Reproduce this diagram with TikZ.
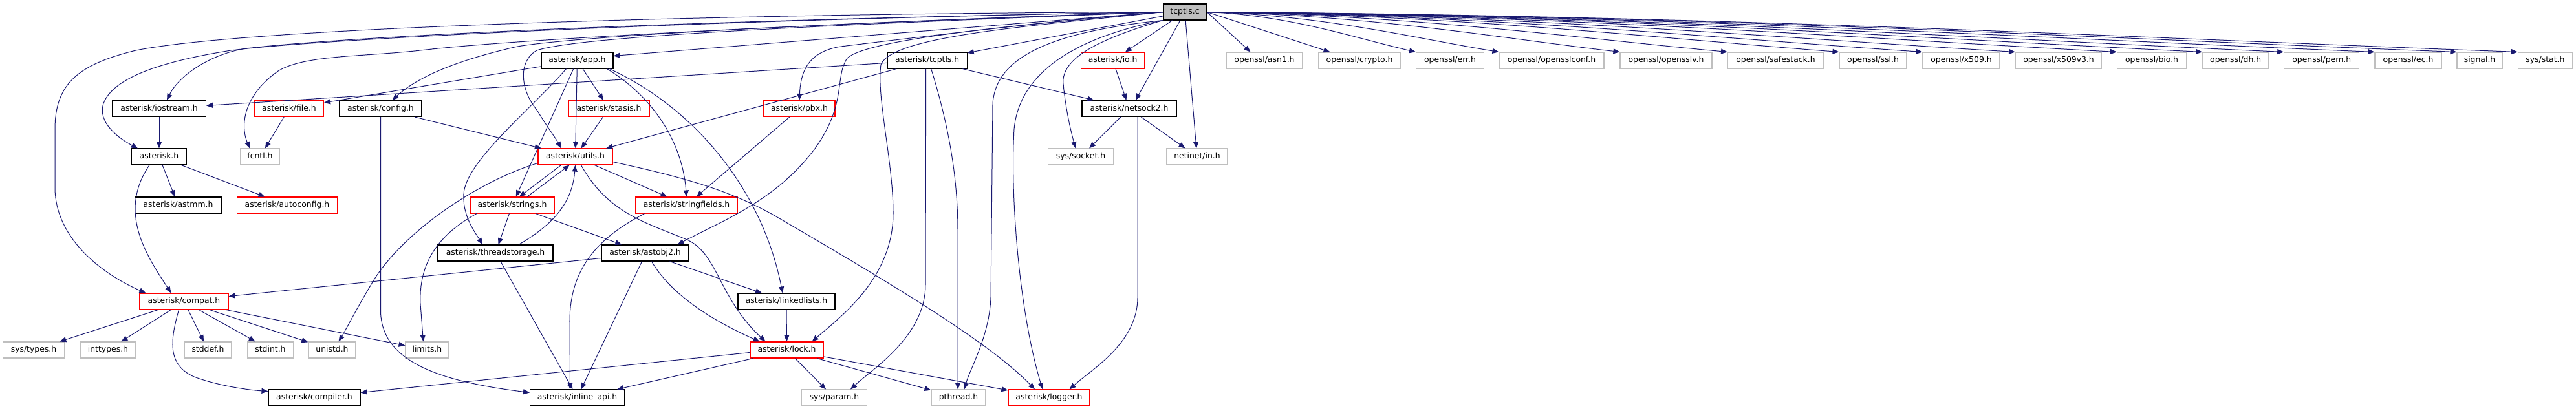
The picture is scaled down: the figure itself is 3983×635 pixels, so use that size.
\documentclass[tikz,border=0pt]{standalone}
\usepackage{fontspec}
\setmainfont{DejaVu Sans}
\usetikzlibrary{arrows.meta}
\definecolor{edgeblue}{RGB}{25,25,112}
\definecolor{boxgray}{RGB}{191,191,191}
\definecolor{boxred}{RGB}{255,0,0}

\begin{document}
\begin{tikzpicture}[x=1pt,y=-1pt,
  hdr/.style={draw=black,line width=1.1pt,fill=white,minimum height=25pt,inner xsep=0pt,
    text height=9pt,text depth=2.6pt,font=\fontsize{12.4}{14}\selectfont},
  redhdr/.style={hdr,draw=boxred},
  syshdr/.style={hdr,draw=boxgray},
  rootfile/.style={hdr,fill=boxgray},
  incl/.style={draw=edgeblue,line width=1pt,-{Triangle[length=10pt,width=8pt]}}]
  \useasboundingbox (0,0) rectangle (3983,635);

  \node[rootfile,minimum width=67] (tcptlsc) at (1832,18.5) {tcptls.c};

  \node[hdr,minimum width=111] (app) at (892.5,93.5) {asterisk/app.h};
  \node[hdr,minimum width=123] (tcptlsh) at (1433.7,93.5) {asterisk/tcptls.h};
  \node[redhdr,minimum width=98] (io) at (1720.6,93.5) {asterisk/io.h};
  \node[syshdr,minimum width=118] (asn1) at (1955,93.5) {openssl/asn1.h};
  \node[syshdr,minimum width=126] (crypto) at (2102,93.5) {openssl/crypto.h};
  \node[syshdr,minimum width=105] (err) at (2242,93.5) {openssl/err.h};
  \node[syshdr,minimum width=162] (sslconf) at (2399,93.5) {openssl/opensslconf.h};
  \node[syshdr,minimum width=142] (sslv) at (2576,93.5) {openssl/opensslv.h};
  \node[syshdr,minimum width=148] (safestack) at (2745.5,93.5) {openssl/safestack.h};
  \node[syshdr,minimum width=104] (ssl) at (2896,93.5) {openssl/ssl.h};
  \node[syshdr,minimum width=119] (x509) at (3032.5,93.5) {openssl/x509.h};
  \node[syshdr,minimum width=133] (x509v3) at (3183,93.5) {openssl/x509v3.h};
  \node[syshdr,minimum width=107] (bio) at (3327,93.5) {openssl/bio.h};
  \node[syshdr,minimum width=102] (dh) at (3456.7,93.5) {openssl/dh.h};
  \node[syshdr,minimum width=116] (pem) at (3589.7,93.5) {openssl/pem.h};
  \node[syshdr,minimum width=103] (ec) at (3723.5,93.5) {openssl/ec.h};
  \node[syshdr,minimum width=70] (signal) at (3834,93.5) {signal.h};
  \node[syshdr,minimum width=84] (sysstat) at (3935.4,93.5) {sys/stat.h};

  \node[hdr,minimum width=145] (iostream) at (246,168) {asterisk/iostream.h};
  \node[redhdr,minimum width=107] (file) at (447,168) {asterisk/file.h};
  \node[hdr,minimum width=127] (config) at (588.5,168) {asterisk/config.h};
  \node[redhdr,minimum width=125] (stasis) at (941.5,168) {asterisk/stasis.h};
  \node[redhdr,minimum width=110] (pbx) at (1236,168) {asterisk/pbx.h};
  \node[hdr,minimum width=146] (netsock) at (1746,168) {asterisk/netsock2.h};

  \node[hdr,minimum width=85] (asterisk) at (246,242.5) {asterisk.h};
  \node[syshdr,minimum width=60] (fcntl) at (402,242.5) {fcntl.h};
  \node[redhdr,minimum width=115] (utils) at (889.5,242.5) {asterisk/utils.h};
  \node[syshdr,minimum width=101] (syssocket) at (1671,242.5) {sys/socket.h};
  \node[syshdr,minimum width=94] (netinet) at (1851,242.5) {netinet/in.h};

  \node[hdr,minimum width=134] (astmm) at (275.5,317.5) {asterisk/astmm.h};
  \node[redhdr,minimum width=155] (autoconfig) at (444,317.5) {asterisk/autoconfig.h};
  \node[redhdr,minimum width=130] (strings) at (792,317.5) {asterisk/strings.h};
  \node[redhdr,minimum width=157] (strfields) at (1061.5,317.5) {asterisk/stringfields.h};

  \node[hdr,minimum width=178] (tstorage) at (766,391.5) {asterisk/threadstorage.h};
  \node[hdr,minimum width=135] (astobj) at (997.5,391.5) {asterisk/astobj2.h};

  \node[redhdr,minimum width=137] (compat) at (284.5,466.5) {asterisk/compat.h};
  \node[hdr,minimum width=150] (llists) at (1216,466.5) {asterisk/linkedlists.h};

  \node[syshdr,minimum width=95] (systypes) at (52,541.5) {sys/types.h};
  \node[syshdr,minimum width=86] (inttypes) at (167,541.5) {inttypes.h};
  \node[syshdr,minimum width=73] (stddef) at (321.5,541.5) {stddef.h};
  \node[syshdr,minimum width=71] (stdint) at (418,541.5) {stdint.h};
  \node[syshdr,minimum width=73] (unistd) at (513.5,541.5) {unistd.h};
  \node[syshdr,minimum width=67] (limits) at (660.5,541.5) {limits.h};
  \node[redhdr,minimum width=113] (lock) at (1216.5,541.5) {asterisk/lock.h};

  \node[hdr,minimum width=142] (compiler) at (486,615.5) {asterisk/compiler.h};
  \node[hdr,minimum width=146] (inline) at (892.5,615.5) {asterisk/inline\_api.h};
  \node[syshdr,minimum width=101] (sysparam) at (1290,615.5) {sys/param.h};
  \node[syshdr,minimum width=84] (pthread) at (1482,615.5) {pthread.h};
  \node[redhdr,minimum width=126] (logger) at (1622,615.5) {asterisk/logger.h};

  % tcptls.c, to the left
  \draw[incl] (tcptlsc.west) .. controls (1200,20) and (400,40) .. (210,78) .. controls (120,100) and (85,130) .. (85,200) -- (85,290) .. controls (85,370) and (160,425) .. ([xshift=10pt]compat.north west);
  \draw[incl] (tcptlsc.west) .. controls (1100,30) and (500,60) .. (357,78) .. controls (250,95) and (175,120) .. (160,160) .. controls (150,190) and (185,215) .. ([xshift=10pt]asterisk.north west);
  \draw[incl] (tcptlsc.west) .. controls (1100,30) and (550,55) .. (380,75) .. controls (320,85) and (275,120) .. ([xshift=12pt]iostream.north);
  \draw[incl] (tcptlsc.west) .. controls (1300,35) and (800,60) .. (650,78) .. controls (560,88) and (470,85) .. (430,110) .. controls (380,145) and (370,190) .. ([xshift=-16pt]fcntl.north);
  \draw[incl] (tcptlsc.west) .. controls (1300,35) and (900,55) .. (800,72) .. controls (720,90) and (650,115) .. ([xshift=18pt]config.north);
  \draw[incl] (tcptlsc.west) .. controls (1300,38) and (900,55) .. (830,78) .. controls (800,95) and (805,140) .. (830,170) .. controls (845,195) and (860,215) .. ([xshift=-22pt]utils.north);
  \draw[incl] (tcptlsc.west) -- ([yshift=7pt]app.east);
  \draw[incl] (tcptlsc) -- (tcptlsh);
  \draw[incl] (tcptlsc.west) .. controls (1600,35) and (1400,60) .. (1300,72) .. controls (1250,80) and (1238,110) .. (pbx.north);
  \draw[incl] (tcptlsc.west) .. controls (1550,40) and (1340,62) .. (1310,90) .. controls (1290,120) and (1310,160) .. (1260,230) .. controls (1200,310) and (1120,340) .. ([xshift=-18pt]astobj.north east);
  \draw[incl] (tcptlsc.west) .. controls (1600,40) and (1380,55) .. (1362,100) .. controls (1355,150) and (1381,250) .. (1381,330) .. controls (1381,430) and (1300,490) .. ([xshift=-18pt]lock.north east);
  \draw[incl] (tcptlsc.south west) .. controls (1620,50) and (1540,90) .. (1535,160) -- (1532,460) .. controls (1530,520) and (1500,570) .. ([xshift=9pt]pthread.north);
  \draw[incl] (tcptlsc.south west) .. controls (1650,60) and (1575,120) .. (1568,200) .. controls (1562,300) and (1575,480) .. ([xshift=-10pt]logger.north);
  \draw[incl] (tcptlsc.south west) .. controls (1700,60) and (1640,90) .. (1644,130) .. controls (1648,170) and (1655,200) .. ([xshift=-8pt]syssocket.north);
  \draw[incl] (tcptlsc) -- ([xshift=10pt]netsock.north);
  \draw[incl] (tcptlsc) -- (netinet);
  \draw[incl] (tcptlsc) -- (io);

  % tcptls.c, to the right
  \draw[incl] (tcptlsc.east) -- ([xshift=38pt]asn1.north west);
  \draw[incl] (tcptlsc.east) -- ([xshift=18pt]crypto.north west);
  \draw[incl] (tcptlsc.east) .. controls (1995,24) and (2092,58) .. (err.north west);
  \draw[incl] (tcptlsc.east) .. controls (2047,24) and (2182,58) .. (sslconf.north west);
  \draw[incl] (tcptlsc.east) .. controls (2122,24) and (2313,58) .. (sslv.north west);
  \draw[incl] (tcptlsc.east) .. controls (2188,24) and (2430,58) .. (safestack.north west);
  \draw[incl] (tcptlsc.east) .. controls (2257,24) and (2551,58) .. (ssl.north west);
  \draw[incl] (tcptlsc.east) .. controls (2309,24) and (2641,58) .. (x509.north west);
  \draw[incl] (tcptlsc.east) .. controls (2366,24) and (2741,58) .. (x509v3.north west);
  \draw[incl] (tcptlsc.east) .. controls (2429,24) and (2851,58) .. (bio.north west);
  \draw[incl] (tcptlsc.east) .. controls (2482,24) and (2944,58) .. (dh.north west);
  \draw[incl] (tcptlsc.east) .. controls (2532,24) and (3032,58) .. (pem.north west);
  \draw[incl] (tcptlsc.east) .. controls (2588,24) and (3130,58) .. (ec.north west);
  \draw[incl] (tcptlsc.east) .. controls (2639,24) and (3219,58) .. (signal.north west);
  \draw[incl] (tcptlsc.east) .. controls (2677,24) and (3285,58) .. (sysstat.north west);

  % second level
  \draw[incl] (tcptlsh) -- (iostream);
  \draw[incl] (tcptlsh) -- (utils);
  \draw[incl] (tcptlsh) -- (netsock);
  \draw[incl] ([xshift=-2pt]tcptlsh.south) -- (1431,440) .. controls (1431,520) and (1350,570) .. ([xshift=25pt]sysparam.north);
  \draw[incl] ([xshift=6pt]tcptlsh.south) .. controls (1475,220) and (1481,300) .. (1481,360) -- ([xshift=-1pt]pthread.north);
  \draw[incl] (io) -- (netsock);
  \draw[incl] (netsock) -- (syssocket);
  \draw[incl] (netsock) -- (netinet);
  \draw[incl] ([xshift=13pt]netsock.south) -- (1759,460) .. controls (1759,530) and (1690,570) .. ([xshift=-32pt]logger.north east);

  \draw[incl] (app) -- (file);
  \draw[incl] (app) -- (stasis);
  \draw[incl] (app) -- (utils);
  \draw[incl] (app) -- (strings);
  \draw[incl] ([xshift=-17pt]app.south) .. controls (820,170) and (720,250) .. (717,300) .. controls (715,335) and (735,360) .. ([xshift=-20pt]tstorage.north);
  \draw[incl] ([xshift=46pt]app.south) .. controls (1010,150) and (1055,220) .. (strfields.north);
  \draw[incl] ([xshift=50pt]app.south) .. controls (1080,170) and (1180,300) .. ([xshift=-6pt]llists.north);

  \draw[incl] (iostream) -- (asterisk);
  \draw[incl] (file) -- (fcntl);
  \draw[incl] (config) -- (utils);
  \draw[incl] (config.south) -- (588.5,480) .. controls (588.5,560) and (680,590) .. ([yshift=8pt]inline.west);
  \draw[incl] (stasis) -- (utils);
  \draw[incl] (pbx) -- (strfields);

  \draw[incl] (asterisk) -- (astmm);
  \draw[incl] (asterisk) -- (autoconfig);
  \draw[incl] ([xshift=-15pt]asterisk.south) .. controls (180,330) and (230,400) .. ([xshift=-20pt]compat.north);

  % utils.h and friends
  \draw[incl] ([xshift=-22pt]utils.south) -- ([xshift=11pt]strings.north);
  \draw[incl] ([xshift=23pt]strings.north) -- ([xshift=-9pt]utils.south);
  \draw[incl] (utils) -- (strfields);
  \draw[incl] ([xshift=9pt]utils.south) .. controls (940,330) and (1000,345) .. (1060,370) .. controls (1110,390) and (1110,460) .. ([xshift=-33pt]lock.north);
  \draw[incl] ([yshift=-8pt]utils.east) .. controls (1060,275) and (1130,295) .. (1200,335) .. controls (1380,440) and (1530,530) .. ([xshift=-22pt]logger.north);
  \draw[incl] ([yshift=-10pt]utils.west) .. controls (740,280) and (620,360) .. (574,440) .. controls (550,480) and (535,510) .. ([xshift=10pt]unistd.north);

  \draw[incl] (strings) -- (tstorage);
  \draw[incl] (strings) -- (astobj);
  \draw[incl] ([xshift=-55pt]strings.south) .. controls (665,370) and (648,420) .. (650,470) -- ([xshift=-6pt]limits.north);

  \draw[incl] ([xshift=36pt]tstorage.north) .. controls (860,345) and (885,310) .. (utils.south);
  \draw[incl] ([xshift=8pt]tstorage.south) -- ([xshift=-7pt]inline.north);
  \draw[incl] ([xshift=-65pt]strfields.south) .. controls (920,370) and (880,420) .. (881,500) -- ([xshift=-11pt]inline.north);

  \draw[incl] ([yshift=-8pt]astobj.west) -- ([yshift=8pt]compat.east);
  \draw[incl] (astobj) -- (llists);
  \draw[incl] ([xshift=-5pt]astobj.south) -- ([xshift=6pt]inline.north);
  \draw[incl] ([xshift=10pt]astobj.south) .. controls (1040,460) and (1110,500) .. ([xshift=-42pt]lock.north);
  \draw[incl] (llists) -- (lock);

  \draw[incl] ([yshift=-4pt]lock.west) -- ([yshift=8pt]compiler.east);
  \draw[incl] ([xshift=-52pt]lock.south) -- ([xshift=-12pt]inline.north east);
  \draw[incl] (lock) -- (sysparam);
  \draw[incl] (lock) -- (pthread);
  \draw[incl] (lock) -- (logger);

  % compat.h
  \draw[incl] (compat) -- (systypes);
  \draw[incl] (compat) -- (inttypes);
  \draw[incl] (compat) -- (stddef);
  \draw[incl] (compat) -- (stdint);
  \draw[incl] (compat) -- (unistd);
  \draw[incl] (compat) -- (limits);
  \draw[incl] ([xshift=-8pt]compat.south) .. controls (262,530) and (260,565) .. (300,583) .. controls (340,598) and (390,604) .. ([yshift=-3pt]compiler.north west);
\end{tikzpicture}
\end{document}
